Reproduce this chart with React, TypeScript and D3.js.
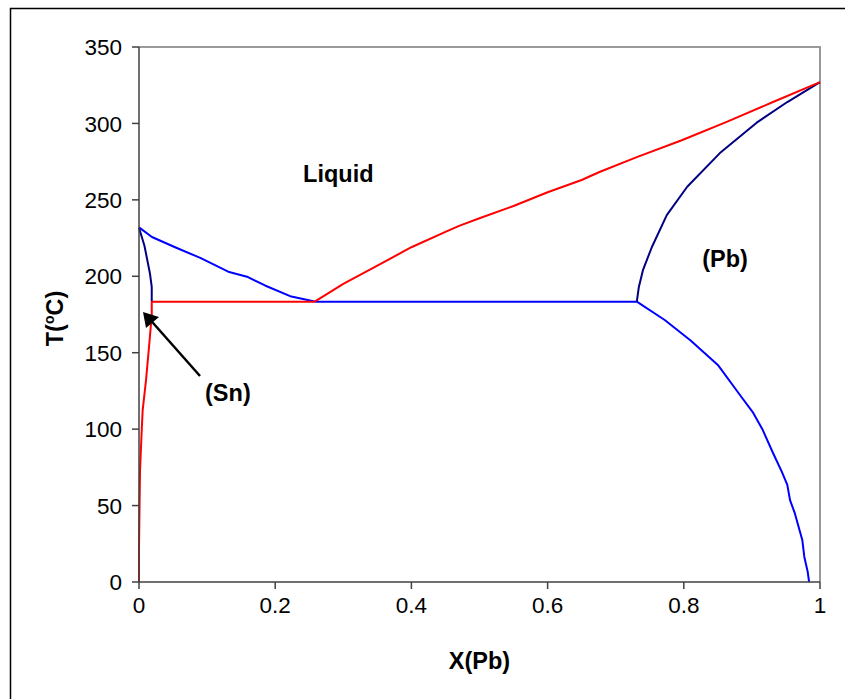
import React from "react";
import * as d3 from "d3";

const xTicks = [0, 0.2, 0.4, 0.6, 0.8, 1];
const yTicks = [0, 50, 100, 150, 200, 250, 300, 350];

// Sn-side liquidus (blue)
const liqSnX = [0, 0.019, 0.053, 0.09, 0.131, 0.16, 0.185, 0.222, 0.258];
const liqSnT = [232, 225.7, 219, 212, 203, 199.5, 194, 187, 183.5];
// Sn-side solidus (navy)
const solSnX = [0, 0.008, 0.016, 0.0187, 0.0187];
const solSnT = [231.8, 220, 202, 193, 183.4];
// Sn-side solvus (red)
const solvSnX = [0.0187, 0.0187, 0.016, 0.0103, 0.0054, 0.004, 0.0015, 0.0005, 0, 0];
const solvSnT = [183.4, 174.7, 160.3, 132, 112.5, 99.4, 73, 40.5, 21, 0];
// Horizontal red segment at the eutectic temperature
const tieSnX = [0.0187, 0.258];
const tieSnT = [183.4, 183.4];
// Eutectic line (blue)
const eutX = [0.258, 0.731];
const eutT = [183.4, 183.4];
// Pb-side liquidus (red)
const liqPbX = [0.258, 0.3, 0.35, 0.4, 0.45, 0.47, 0.5, 0.55, 0.6, 0.65, 0.677, 0.731, 0.797, 0.863, 0.931, 1.0];
const liqPbT = [183.4, 195, 207, 219, 229, 233, 238, 246, 255, 263, 268.4, 278, 289, 301, 314, 327];
// Pb-side solidus (navy)
const solPbX = [0.731, 0.734, 0.74, 0.753, 0.775, 0.805, 0.853, 0.907, 0.952, 1.0];
const solPbT = [183.4, 193, 204, 219, 240, 258.6, 280.6, 300.5, 314, 327];
// Pb-side solvus (blue)
const solvPbX = [0.731, 0.772, 0.81, 0.85, 0.883, 0.902, 0.916, 0.931, 0.944, 0.952, 0.956, 0.963, 0.974, 0.977, 0.982, 0.984];
const solvPbT = [183.4, 171.4, 158, 142, 122, 110.6, 99.4, 84.4, 72, 63.5, 53.6, 45, 27.5, 16.4, 6.5, 0];

const BLUE = "#0000FF";
const NAVY = "#000080";
const RED = "#FF0000";

const W = 845;
const H = 699;

export default function App() {
  const x = d3.scaleLinear().domain([0, 1]).range([139, 820]);
  const y = d3.scaleLinear().domain([0, 350]).range([582, 47]);
  const line = d3
    .line<[number, number]>()
    .x((d) => x(d[0]))
    .y((d) => y(d[1]));
  const mk = (xs: number[], ts: number[]) => line(xs.map((v, i) => [v, ts[i]] as [number, number])) || "";

  const series: { xs: number[]; ts: number[]; color: string }[] = [
    { xs: eutX, ts: eutT, color: BLUE },
    { xs: liqSnX, ts: liqSnT, color: BLUE },
    { xs: solvPbX, ts: solvPbT, color: BLUE },
    { xs: solSnX, ts: solSnT, color: NAVY },
    { xs: solPbX, ts: solPbT, color: NAVY },
    { xs: tieSnX, ts: tieSnT, color: RED },
    { xs: solvSnX, ts: solvSnT, color: RED },
    { xs: liqPbX, ts: liqPbT, color: RED },
  ];

  const font = "Arial, 'Liberation Sans', sans-serif";
  const [x0, x1] = x.range();
  const [y0, y1] = y.range();

  return (
    <svg width={W} height={H} style={{ position: "absolute", left: 0, top: 0, display: "block" }} fontFamily={font}>
      <rect x={0} y={0} width={W} height={H} fill="#fff" />
      <rect x={10.5} y={8.5} width={W + 20} height={H + 20} fill="none" stroke="#000" strokeWidth={1.5} />
      {/* plot frame top/right */}
      <path d={`M${x0},${y1}H${x1}V${y0}`} fill="none" stroke="#999" strokeWidth={2} />
      {series.map((s, i) => (
        <path key={i} d={mk(s.xs, s.ts)} fill="none" stroke={s.color} strokeWidth={2} strokeLinejoin="round" />
      ))}
      {/* axes */}
      <line x1={x0} x2={x0} y1={y1} y2={y0} stroke="#404040" strokeWidth={1.5} />
      <line x1={x0} x2={x1} y1={y0} y2={y0} stroke="#404040" strokeWidth={1.5} />
      {yTicks.map((t) => (
        <g key={"y" + t}>
          <line x1={x0 - 7} x2={x0} y1={y(t)} y2={y(t)} stroke="#404040" strokeWidth={1.5} />
          <text x={x0 - 17} y={y(t)} dy="0.36em" textAnchor="end" fontSize={22.5} fill="#000">
            {t}
          </text>
        </g>
      ))}
      {xTicks.map((t) => (
        <g key={"x" + t}>
          <line x1={x(t)} x2={x(t)} y1={y0} y2={y0 + 7} stroke="#404040" strokeWidth={1.5} />
          <text x={x(t)} y={y0 + 31} textAnchor="middle" fontSize={22.5} fill="#000">
            {String(t)}
          </text>
        </g>
      ))}
      {/* axis titles */}
      <text x={(x0 + x1) / 2} y={669} textAnchor="middle" fontSize={23.5} fontWeight="bold">
        X(Pb)
      </text>
      <text
        transform={`translate(63,${(y0 + y1) / 2 + 4}) rotate(-90)`}
        textAnchor="middle"
        fontSize={23.5}
        fontWeight="bold"
      >
        T(
        <tspan fontSize={14} dy={-9}>o</tspan>
        <tspan dy={9}>C)</tspan>
      </text>
      {/* region labels */}
      <text x={x(0.241)} y={y(262)} fontSize={23.5} fontWeight="bold">
        Liquid
      </text>
      <text x={x(0.827)} y={y(206)} fontSize={23.5} fontWeight="bold">
        (Pb)
      </text>
      <text x={x(0.097)} y={y(118.4)} fontSize={23.5} fontWeight="bold">
        (Sn)
      </text>
      {/* arrow */}
      <line x1={200} y1={376} x2={146} y2={315} stroke="#000" strokeWidth={2.5} />
      <path d="M143,312 L146,328 L159,317 Z" fill="#000" />
    </svg>
  );
}
